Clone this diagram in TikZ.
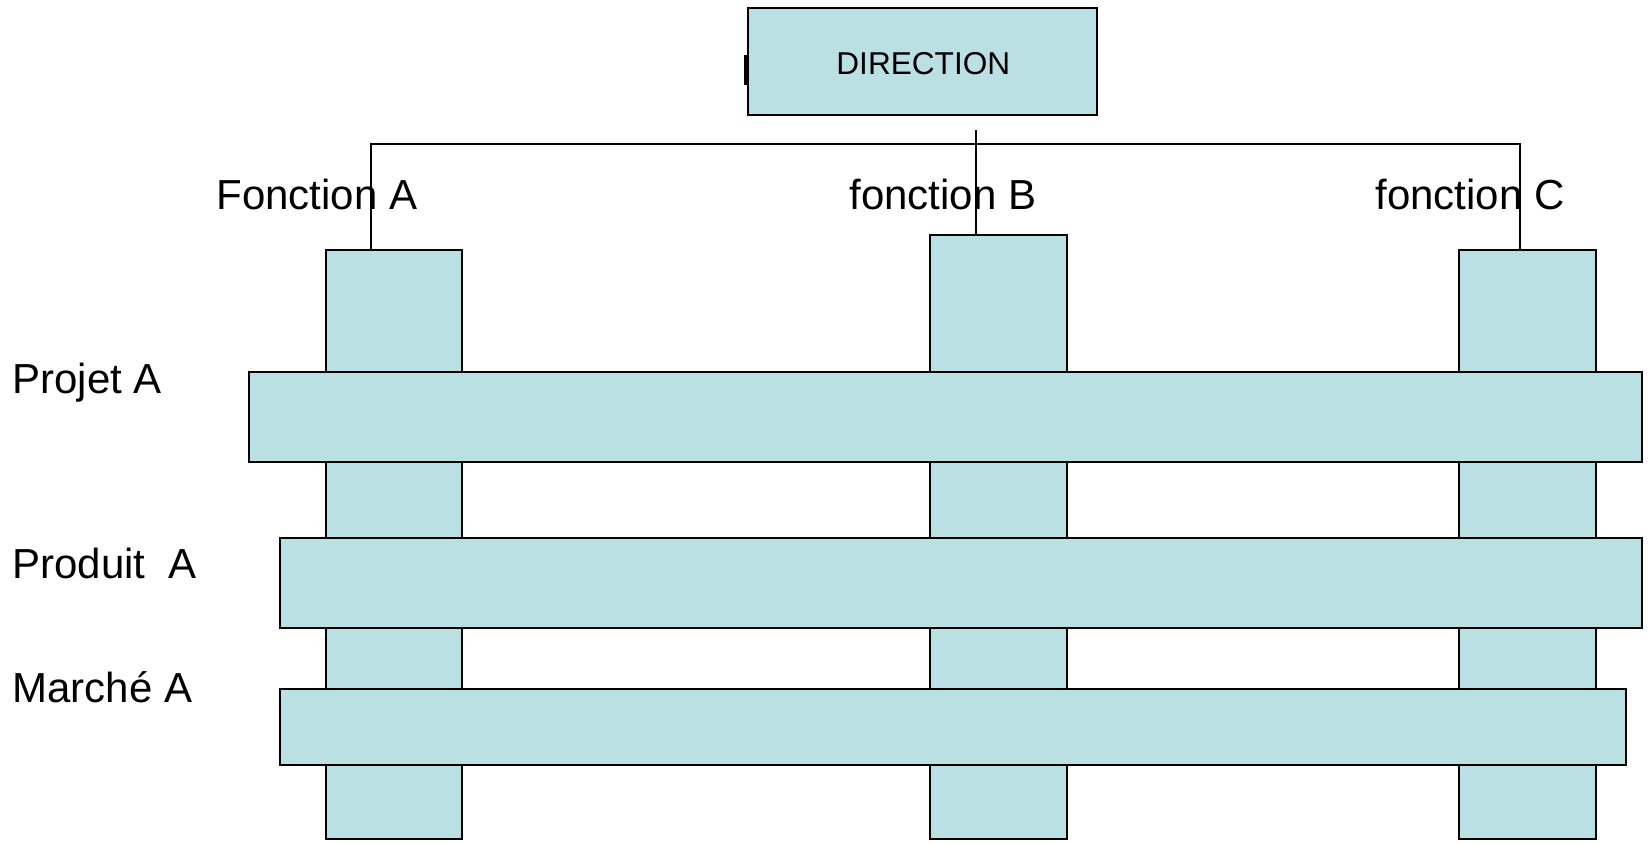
\documentclass[tikz,border=0pt]{standalone}
\usepackage{fontspec}
\setmainfont{Liberation Sans}
\usetikzlibrary{calc}
\definecolor{boxfill}{RGB}{187,224,227}
\begin{document}
\begin{tikzpicture}[x=0.5pt,y=-0.5pt,
  bar/.style={draw=black,fill=boxfill,line width=1.3pt,rectangle,inner sep=0pt},
  wire/.style={draw=black,line width=1.1pt},
  lbl/.style={inner sep=0pt,anchor=base west,font=\fontsize{21pt}{24pt}\selectfont},
  dirlbl/.style={inner sep=0pt,anchor=base west,font=\fontsize{15.8pt}{18pt}\selectfont}]
\useasboundingbox (0,0) rectangle (1652,843);
% columns
\node[bar,minimum width=68pt,minimum height=294.5pt] (colA) at (394,544.5) {};
\node[bar,minimum width=68.5pt,minimum height=302pt] (colB) at (998.5,537) {};
\node[bar,minimum width=68.5pt,minimum height=294.5pt] (colC) at (1527.5,544.5) {};
% rows
\node[bar,minimum width=696.5pt,minimum height=45pt] (projet) at (945.5,417) {};
\node[bar,minimum width=681pt,minimum height=45pt] (produit) at (961,583) {};
\node[bar,minimum width=673pt,minimum height=38pt] (marche) at (953,727) {};
% direction
\node[bar,minimum width=174.5pt,minimum height=53.5pt] (dir) at (922.5,61.5) {};
\node[dirlbl] (dirtxt) at (836,74) {DIRECTION};
\coordinate (tickA) at (746,55);
\coordinate (tickB) at (746,85);
\draw[line width=1.6pt] (tickA) -- (tickB);
% labels
\node[lbl] (fa) at (216,209) {Fonction A};
\node[lbl] (fb) at (849,209) {fonction B};
\node[lbl] (fc) at (1375,209) {fonction C};
\node[lbl] (lp) at (12,393) {Projet A};
\node[lbl] (lq) at (12,578) {Produit\ \ A};
\node[lbl] (lm) at (12,702) {Marché A};
% connectors
\coordinate (ja) at (371,144);
\coordinate (jc) at (1520,144);
\coordinate (jb) at (976,130);
\draw[wire] (ja |- colA.north) -- (ja) -- (jc) -- (jc |- colC.north);
\draw[wire] (jb) -- (jb |- colB.north);
\end{tikzpicture}
\end{document}
